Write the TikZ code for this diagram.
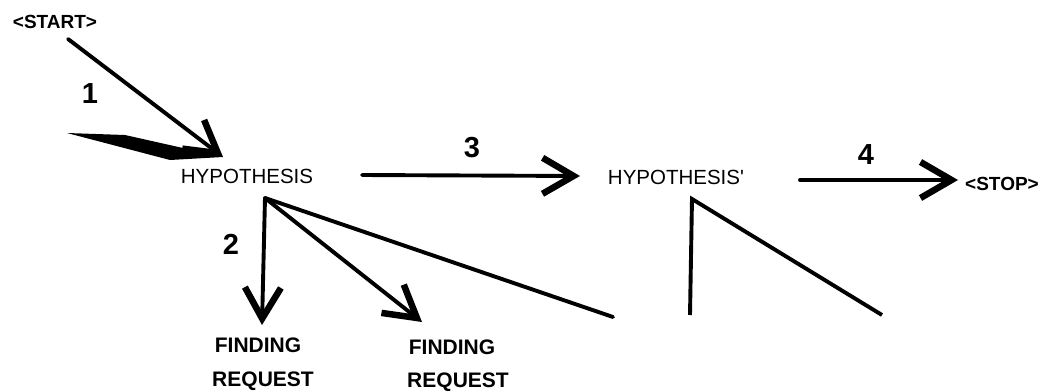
\documentclass[tikz,border=0pt]{standalone}
\usepackage{fontspec}
\setmainfont{Liberation Sans}
\usetikzlibrary{arrows.meta}
\tikzset{
  x=1pt, y=-1pt,
  conn/.style={line width=3.9pt, line cap=round},
  arr/.style={conn, -{Straight Barb[length=31pt,width=36pt,line width=6.5pt]}},
  plain/.style={inner sep=0pt, font=\fontsize{20.5}{24}\selectfont},
  boldtxt/.style={inner sep=0pt, font=\bfseries\fontsize{21}{24}\selectfont},
  smallbold/.style={inner sep=0pt, font=\bfseries\fontsize{19}{22}\selectfont},
  num/.style={inner sep=0pt, font=\bfseries\fontsize{29}{32}\selectfont},
}
\begin{document}
\begin{tikzpicture}
\useasboundingbox[fill=white] (0,0) rectangle (1045,391);
% texts
\node[smallbold] (start) at (55,22) {<START>};
\node[plain] (hyp) at (247,176) {HYPOTHESIS};
\node[plain] (hypp) at (676,177) {HYPOTHESIS\textquotesingle};
\node[smallbold] (stop) at (1002,184) {<STOP>};
\node[boldtxt] (find1) at (258,345) {FINDING};
\node[boldtxt] (req1) at (263,381) {REQUEST};
\node[boldtxt] (find2) at (452,347) {FINDING};
\node[boldtxt] (req2) at (458,382) {REQUEST};
\node[num] (n1) at (90,94) {1};
\node[num] (n2) at (231,244) {2};
\node[num] (n3) at (472,148) {3};
\node[num] (n4) at (866,155) {4};
% connector end points
\coordinate (s1) at (68,39);
\coordinate (t1) at (223,157);
\coordinate (fork) at (265,198);
\coordinate (t2a) at (262,325);
\coordinate (t2b) at (422,322);
\coordinate (e2c) at (613,317);
\coordinate (s3) at (362,175);
\coordinate (t3) at (580,176);
\coordinate (s4) at (800,180);
\coordinate (t4) at (958,180);
\coordinate (ta) at (690,315);
\coordinate (tb) at (692,199);
\coordinate (tc) at (882,315);
% wedge
\fill (67,133) -- (125,135) -- (t1) -- (170,160) -- cycle;
% arrows
\draw[arr] (s1) -- (t1);
\draw[arr] (fork) -- (t2a);
\draw[arr] (fork) -- (t2b);
\draw[conn] (fork) -- (e2c);
\draw[arr] (s3) -- (t3);
\draw[arr] (s4) -- (t4);
\draw[conn, line cap=butt, line join=miter] (ta) -- (tb) -- (tc);
\end{tikzpicture}
\end{document}
